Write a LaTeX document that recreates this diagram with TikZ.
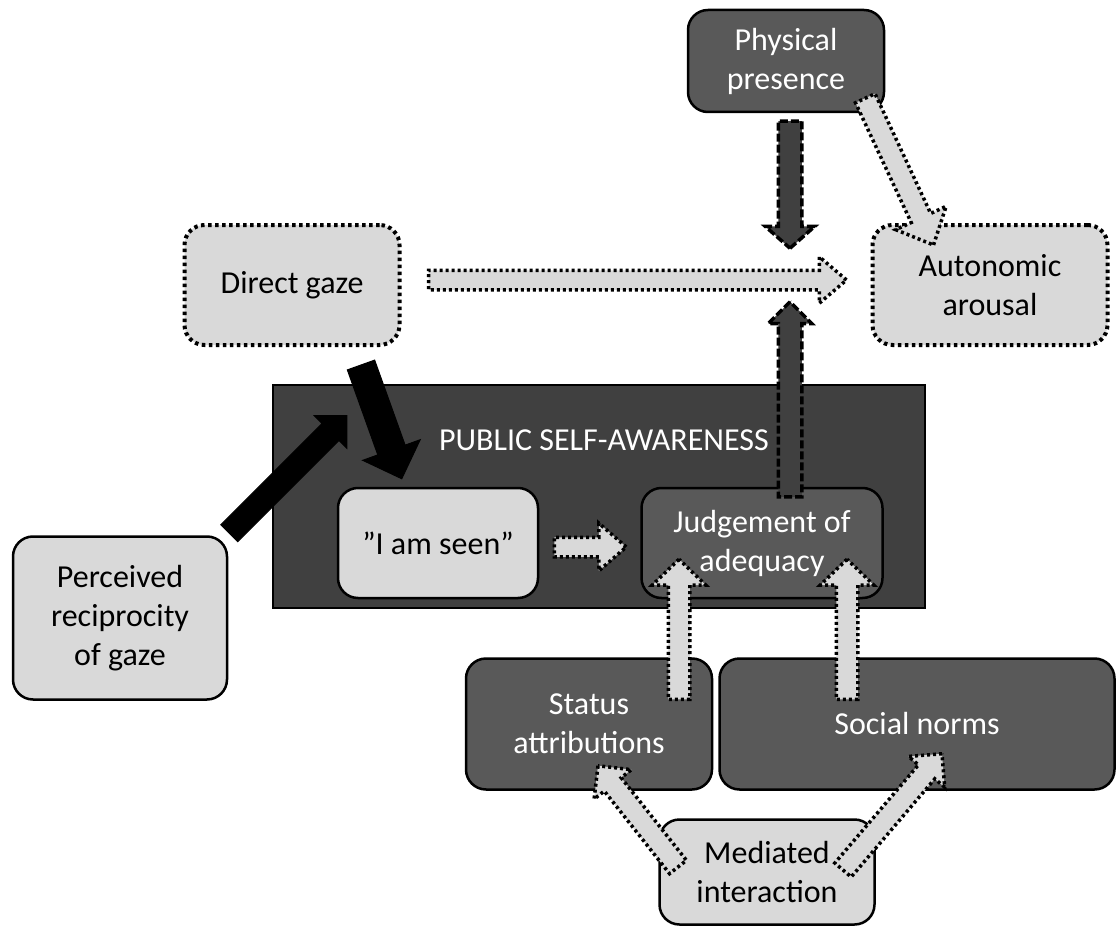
\documentclass[tikz,border=0pt]{standalone}
\usepackage{fontspec}
\setmainfont{Carlito}
\usetikzlibrary{calc,shapes.arrows}
\definecolor{lightgr}{HTML}{D9D9D9}
\definecolor{darkgr}{HTML}{595959}
\definecolor{deepgr}{HTML}{404040}

% block arrow from #2 to #3, shaft width #4
\newcommand\blockarrow[4][]{%
  \path let \p1=#2, \p2=#3,
    \n1={atan2(\y2-\y1,\x2-\x1)}, \n2={veclen(\x2-\x1,\y2-\y1)} in
    node[single arrow, inner sep=0pt, outer sep=0pt, minimum width=0pt,
      anchor=tail, rotate=\n1, minimum height=\n2, #1] at (\p1) {\rule{0pt}{#4}};}

\begin{document}
\begin{tikzpicture}[x=1pt,y=-1pt,
  box/.style={rounded corners=20pt, draw=black, line width=2.5pt, align=center,
    inner sep=0pt, font=\fontsize{32}{39}\selectfont},
  lightbox/.style={box, fill=lightgr, text=black},
  darkbox/.style={box, fill=darkgr, text=white},
  dotbox/.style={lightbox, line width=4pt, dash pattern=on 3.5pt off 3.5pt},
  dotarrow/.style={fill=lightgr, draw=black, line width=3.5pt, dash pattern=on 3pt off 3pt},
  dasharrow/.style={fill=deepgr, draw=black, line width=3.5pt, dash pattern=on 8pt off 3pt},
  blackarrow/.style={fill=black, draw=black, line width=1pt}]
\useasboundingbox (0,0) rectangle (1117,931);

\node[draw=black, line width=2.5pt, fill=deepgr, minimum width=652pt, minimum height=223pt, inner sep=0pt] (psa) at (599,496.5) {};
\node[text=white, font=\fontsize{32}{39}\selectfont] (psalabel) at (604,440) {PUBLIC SELF-AWARENESS};

\node[darkbox, minimum width=196pt, minimum height=102pt] (phys) at (786,61) {Physical\\presence};
\node[dotbox, minimum width=235pt, minimum height=120pt] (auto) at (990,285) {Autonomic\\arousal};
\node[dotbox, minimum width=215pt, minimum height=120pt] (direct) at (292,285) {Direct gaze};
\node[lightbox, minimum width=200pt, minimum height=110pt] (seen) at (438,543) {”I am seen”};
\node[darkbox, minimum width=241pt, minimum height=110pt] (judg) at (762,543) {Judgement of\\adequacy};
\node[lightbox, minimum width=214pt, minimum height=163pt] (perc) at (120,618) {Perceived\\reciprocity\\of gaze};
\node[darkbox, minimum width=246pt, minimum height=131pt] (status) at (589,724) {Status\\attributions};
\node[darkbox, minimum width=395pt, minimum height=131pt] (social) at (917,724) {Social norms};
\node[lightbox, minimum width=215pt, minimum height=105pt] (medi) at (767,872) {Mediated\\interaction};

\blockarrow[dotarrow, single arrow head extend=13.5pt, single arrow tip angle=81]{($(direct.east)+(27,-5)$)}{($(auto.west)+(-24,-5)$)}{16pt}
\blockarrow[dasharrow, single arrow head extend=13pt, single arrow tip angle=97]{($(phys.south)+(4,8)$)}{($(phys.south)+(4,135)$)}{20pt}
\blockarrow[dasharrow, single arrow head extend=10pt, single arrow tip angle=90]{($(judg.north)+(28,10)$)}{($(judg.north)+(28,-185)$)}{20pt}
\blockarrow[dotarrow, single arrow head extend=17pt, single arrow tip angle=86]{($(phys.south east)+(-20,-15)$)}{($(auto.north west)+(63,22)$)}{18pt}
\blockarrow[blackarrow, single arrow head extend=11pt, single arrow tip angle=90]{($(perc.north east)+(1,-2)$)}{($(psa.north west)+(75,32)$)}{23pt}
\blockarrow[blackarrow, single arrow head extend=16pt, single arrow tip angle=90]{($(direct.south)+(69,18)$)}{($(seen.north west)+(65,-8)$)}{28pt}
\blockarrow[dotarrow, single arrow head extend=14pt, single arrow tip angle=82]{($(seen.east)+(15,4)$)}{($(judg.west)+(-14,4)$)}{16pt}
\blockarrow[dotarrow, single arrow head extend=16pt, single arrow tip angle=92]{($(status.north)+(90,42)$)}{($(judg.south)+(-83,-40)$)}{18pt}
\blockarrow[dotarrow, single arrow head extend=16pt, single arrow tip angle=92]{($(social.north)+(-70,42)$)}{($(judg.south)+(85,-40)$)}{18pt}
\blockarrow[dotarrow, single arrow head extend=13pt, single arrow tip angle=90]{($(medi.center)+(-89,-5)$)}{($(status.south)+(9,-25)$)}{18pt}
\blockarrow[dotarrow, single arrow head extend=13pt, single arrow tip angle=90]{($(medi.center)+(76,-2)$)}{($(social.south)+(25,-37)$)}{18pt}
\end{tikzpicture}
\end{document}
